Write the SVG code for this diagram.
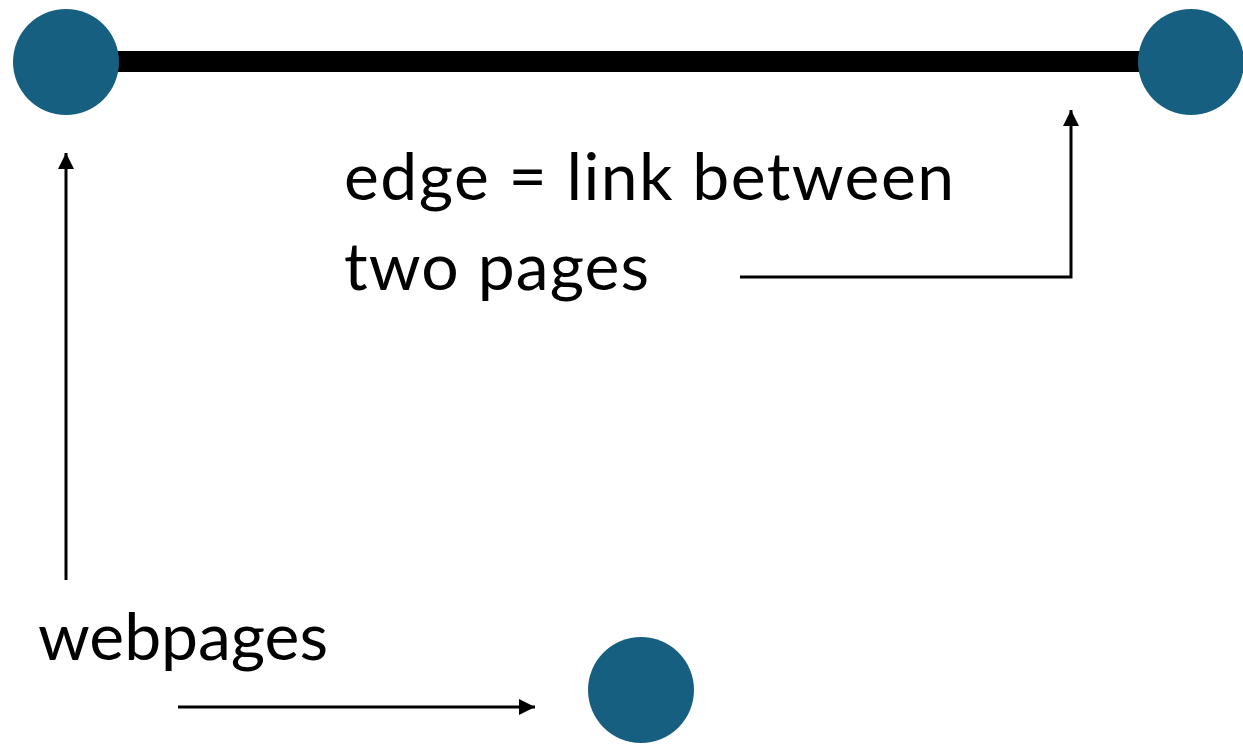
<svg xmlns="http://www.w3.org/2000/svg" width="1243" height="744" viewBox="0 0 1243 744">
  <style>
    .page { fill: #175f80; }
    .label { font-family: Lato, "Open Sans", "Liberation Sans", sans-serif; font-size: 66px; fill: #000; }
    .pointer { fill: none; stroke: #000; stroke-width: 3; }
    .edge { stroke: #000; stroke-width: 21; }
  </style>
  <defs>
    <marker id="head" viewBox="0 0 10 10" refX="10" refY="5" markerWidth="16" markerHeight="16" markerUnits="userSpaceOnUse" orient="auto">
      <path d="M0,0 L10,5 L0,10 z" fill="#000"/>
    </marker>
  </defs>

  <g id="connectors">
    <line class="edge" x1="110" y1="61.5" x2="1150" y2="61.5"/>
    <path class="pointer" d="M66,580 V153" marker-end="url(#head)"/>
    <path class="pointer" d="M740,277 H1071 V110" marker-end="url(#head)"/>
    <path class="pointer" d="M178,707 H535" marker-end="url(#head)"/>
  </g>

  <g id="node-left"><circle class="page" cx="66" cy="62" r="53"/></g>
  <g id="node-right"><circle class="page" cx="1191" cy="62" r="53"/></g>
  <g id="node-bottom"><circle class="page" cx="641" cy="690" r="53"/></g>

  <g id="label-edge">
    <text class="label" x="344" y="200" textLength="610" lengthAdjust="spacing">edge = link between</text>
    <text class="label" x="344" y="290" textLength="305" lengthAdjust="spacing">two pages</text>
  </g>
  <g id="label-webpages">
    <text class="label" x="38" y="660" textLength="290" lengthAdjust="spacing">webpages</text>
  </g>
</svg>
